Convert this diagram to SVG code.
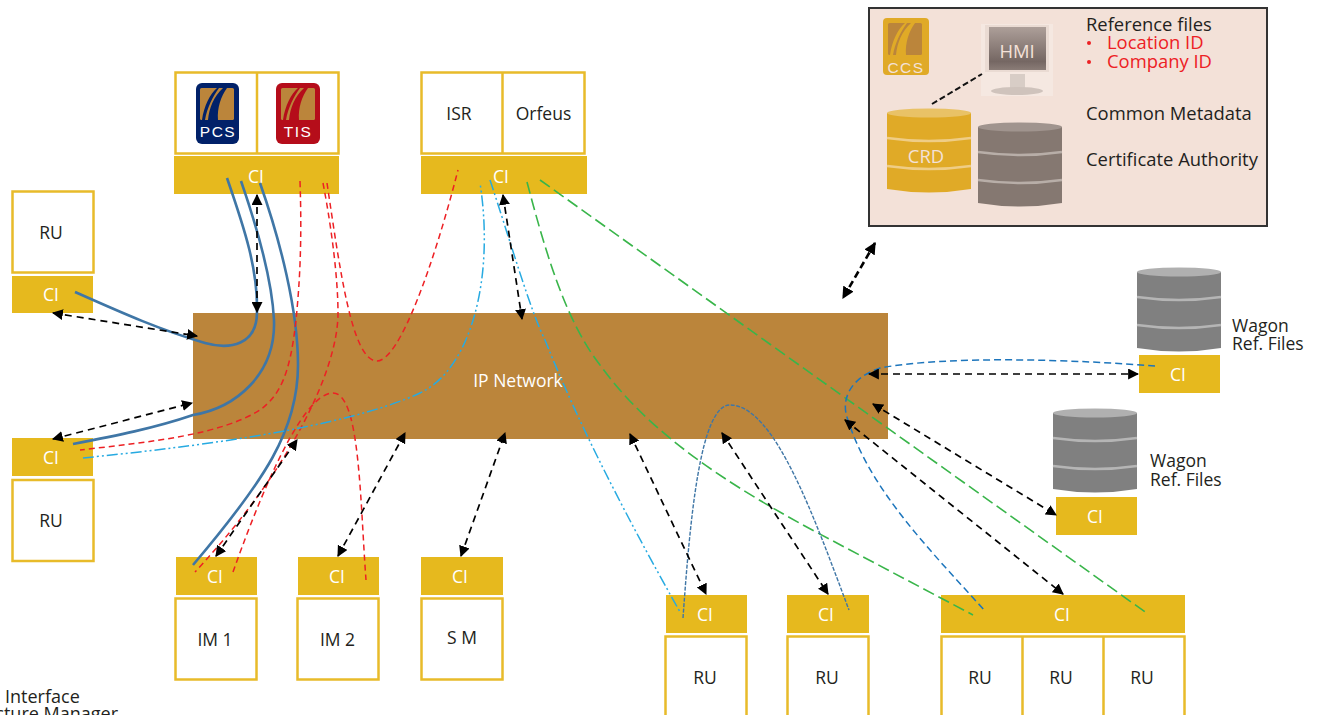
<svg xmlns="http://www.w3.org/2000/svg" xmlns:xlink="http://www.w3.org/1999/xlink" width="1321" height="715" viewBox="0 0 1321 715">
<style>
text{font-family:"Open Sans","Noto Sans","Liberation Sans",sans-serif;font-size:17.500px;fill:#231f20;transform:translateY(.7px)}
.p{font-size:18.400px}
.m{text-anchor:middle}
.w{fill:#fff}
.c{fill:#f3e1d8}
.box{fill:#fff;stroke:#e8bb2a;stroke-width:2.5}
.ci{fill:#e6b91e}
.red{fill:#ed2024}
.blk,.blkb{fill:none;stroke:#000;stroke-width:1.7;stroke-dasharray:7 5;marker-start:url(#a);marker-end:url(#a)}
.blkb{stroke-width:2.6;stroke-dasharray:7 4;marker-start:url(#a2);marker-end:url(#a2)}
.sb,.rd,.cy,.gr,.tb,.db{fill:none}
.sb{stroke:#3f76a6;stroke-width:2.6}
.rd{stroke:#ed2024;stroke-width:1.5;stroke-dasharray:6 4}
.cy{stroke:#27aae1;stroke-width:1.5;stroke-dasharray:11 3 2 3 2 3}
.gr{stroke:#39b54a;stroke-width:1.6;stroke-dasharray:12 5}
.tb{stroke:#3f76a6;stroke-width:1.4;stroke-dasharray:4 1.5}
.db{stroke:#1c75bc;stroke-width:1.5;stroke-dasharray:7 4}
.cb{fill:var(--b)}.ct{fill:var(--t)}.cs{fill:none;stroke:var(--s);stroke-width:2.6}
.crd{--b:#e0aa27;--t:#e9c266;--s:#efcd86}
.pg{--b:#857871;--t:#a0948e;--s:#b8aea8}
.wg{--b:#808080;--t:#b0b0b0;--s:#b5b5b5}
.lt{font-size:15.500px;font-family:"Liberation Sans",sans-serif;text-anchor:middle;letter-spacing:1.500px}
</style>
<defs>
<marker id="a" viewBox="0 0 10 10" refX="9" refY="5" markerUnits="userSpaceOnUse" markerWidth="11" markerHeight="11" orient="auto-start-reverse"><path d="M0,0L10,5L0,10Z"/></marker>
<marker id="a2" viewBox="0 0 10 10" refX="9" refY="5" markerUnits="userSpaceOnUse" markerWidth="12" markerHeight="12" orient="auto-start-reverse"><path d="M0,0L10,5L0,10Z"/></marker>
<linearGradient id="scr" x1="0" y1="0" x2="0" y2="1"><stop offset="0" stop-color="#ad9f99"/><stop offset=".8" stop-color="#756763"/><stop offset="1" stop-color="#8a7c77"/></linearGradient>
<g id="cyl">
<path class="cb" d="M0,5V81Q42,88 84,81V5Z"/>
<ellipse class="ct" cx="42" cy="5" rx="42" ry="4.5"/>
<path class="cs" d="M0,30Q42,36 84,30M0,58Q42,64 84,58"/>
</g>
<g id="road">
<rect width="34" height="32" fill="#bb853b" rx="1.500"/>
<path d="M2,32C4,18 10,6 17,0H19C13,8 7,20 5,32ZM8,32C9,20 14,8 23,0H27C21,8 17,20 18,32Z"/>
</g>
</defs>

<g id="ip-network"><rect x="193" y="313" width="695" height="126" fill="#bb853b"/><text class="m w" x="518" y="386">IP Network</text></g>

<g id="pcs-tis">
<rect class="box" x="175.500" y="72.500" width="163" height="81"/><path class="box" d="M257,72V154"/>
<rect x="196" y="83" width="43" height="61" rx="6" fill="#012169"/>
<use xlink:href="#road" x="200" y="88" fill="#012169"/>
<text class="lt w" x="218" y="136">PCS</text>
<rect x="276" y="83" width="44" height="61" rx="6" fill="#b50d1a"/>
<use xlink:href="#road" x="281" y="88" fill="#b50d1a"/>
<text class="lt w" x="298" y="136">TIS</text>
<rect class="ci" x="174" y="156" width="165" height="38"/><text class="m w" x="256" y="182">CI</text>
</g>
<g id="isr-orfeus">
<rect class="box" x="421.500" y="72.500" width="163" height="81"/><path class="box" d="M502.500,72V154"/>
<text class="m" x="459" y="119">ISR</text><text class="m" x="543.500" y="119">Orfeus</text>
<rect class="ci" x="421" y="156" width="166" height="38"/><text class="m w" x="501" y="182">CI</text>
</g>
<g id="ru-left-top">
<rect class="box" x="12.500" y="191.500" width="81" height="81"/><text class="m" x="51" y="238">RU</text>
<rect class="ci" x="12" y="276" width="81" height="37"/><text class="m w" x="51" y="300">CI</text>
</g>
<g id="ru-left-bottom">
<rect class="ci" x="12" y="438" width="81" height="38"/><text class="m w" x="51" y="463">CI</text>
<rect class="box" x="12.500" y="480" width="81" height="81"/><text class="m" x="51" y="526">RU</text>
</g>
<g id="im1">
<rect class="ci" x="176" y="557" width="81" height="38"/><text class="m w" x="215" y="582">CI</text>
<rect class="box" x="175.500" y="598.500" width="81" height="81"/><text class="m" x="215" y="645">IM 1</text>
</g>
<g id="im2">
<rect class="ci" x="298" y="557" width="81" height="38"/><text class="m w" x="337" y="582">CI</text>
<rect class="box" x="297.500" y="598.500" width="81" height="81"/><text class="m" x="337.500" y="645">IM 2</text>
</g>
<g id="sm">
<rect class="ci" x="421" y="557" width="82" height="38"/><text class="m w" x="460" y="582">CI</text>
<rect class="box" x="421.500" y="598.500" width="81" height="81"/><text class="m" x="462" y="643">S M</text>
</g>
<g id="ru-b1">
<rect class="ci" x="666" y="595" width="81" height="38"/><text class="m w" x="705" y="620">CI</text>
<rect class="box" x="665.500" y="636.500" width="81" height="90"/><text class="m" x="705" y="683">RU</text>
</g>
<g id="ru-b2">
<rect class="ci" x="787" y="595" width="82" height="38"/><text class="m w" x="826" y="620">CI</text>
<rect class="box" x="787.500" y="636.500" width="81" height="90"/><text class="m" x="827" y="683">RU</text>
</g>
<g id="ru-b3">
<rect class="ci" x="941" y="595" width="244" height="38"/><text class="m w" x="1062" y="620">CI</text>
<rect class="box" x="941.500" y="636.500" width="243" height="90"/><path class="box" d="M1022.500,636V715M1103.500,636V715"/>
<text class="m" x="980" y="683">RU</text><text class="m" x="1061" y="683">RU</text><text class="m" x="1142" y="683">RU</text>
</g>
<g id="wagon1">
<use xlink:href="#cyl" class="wg" x="1137" y="267"/>
<rect class="ci" x="1139" y="355" width="81" height="38"/><text class="m w" x="1178" y="380">CI</text>
<text x="1232" y="331">Wagon</text><text x="1232" y="349">Ref. Files</text>
</g>
<g id="wagon2">
<use xlink:href="#cyl" class="wg" x="1053" y="408"/>
<rect class="ci" x="1056" y="497" width="81" height="38"/><text class="m w" x="1095" y="522">CI</text>
<text x="1150" y="466">Wagon</text><text x="1150" y="485">Ref. Files</text>
</g>
<g id="ccs-panel">
<rect x="869" y="8" width="398" height="218" fill="#f3e1d8" stroke="#333" stroke-width="2"/>
<rect x="883" y="18" width="46" height="57" rx="4" fill="#e0aa27"/>
<use xlink:href="#road" x="888" y="23" fill="#e0aa27"/>
<text class="lt c" x="906" y="72">CCS</text>
<rect x="981" y="24" width="72" height="72" fill="#f5e8e1"/>
<rect x="985" y="25" width="64" height="47" fill="#eadbd3"/>
<rect x="989" y="27" width="57" height="43" fill="url(#scr)"/>
<rect x="1010" y="74" width="15" height="17" fill="#d8cdc6"/>
<ellipse cx="1017" cy="91" rx="26" ry="4" fill="#cfc3bc"/>
<text class="m p c" x="1017" y="57">HMI</text>
<path d="M932,104L982,74" fill="none" stroke="#111" stroke-width="2" stroke-dasharray="6 3"/>
<use xlink:href="#cyl" class="crd" x="887" y="108"/>
<text class="m p c" x="926" y="162">CRD</text>
<use xlink:href="#cyl" class="pg" x="978" y="122"/>
<text class="p" x="1086" y="30">Reference files</text>
<circle class="red" cx="1089" cy="43" r="2"/><text class="p" style="fill:#ed2024" x="1107" y="48">Location ID</text>
<circle class="red" cx="1089" cy="62" r="2"/><text class="p" style="fill:#ed2024" x="1107" y="67">Company ID</text>
<text class="p" x="1086" y="119">Common Metadata</text>
<text class="p" x="1086" y="165">Certificate Authority</text>
</g>
<g id="legend">
<text style="font-size:18px" x="5" y="702">Interface</text>
<text style="font-size:18px" x="118" y="719" text-anchor="end">cture Manager</text>
</g>

<g id="connectors">
<path class="sb" d="M227,178C245,230 258,270 257,312C257,345 230,350 205,343C160,330 120,312 75,292"/>
<path class="sb" d="M241,181C258,230 272,280 274,320C276,375 235,408 193,415C155,428 115,436 73,444"/>
<path class="sb" d="M260,183C280,240 298,310 298,365C298,430 265,480 193,565"/>
<path class="rd" d="M300,181C302,240 300,280 296,320C290,375 280,395 260,410C220,435 150,442 80,450"/>
<path class="rd" d="M323,183C332,230 338,280 338,313C338,370 290,470 195,572"/>
<path class="rd" d="M327,183C340,270 352,361 377,361C400,361 435,260 458,170"/>
<path class="rd" d="M233,572C255,510 300,393 333,393C360,393 360,500 366,580"/>
<path class="cy" d="M83,458C180,448 340,430 420,393C470,370 495,280 480,183"/>
<path class="cy" d="M490,180C510,240 530,310 545,340C565,390 600,470 680,612"/>
<path class="gr" d="M527,182C545,250 565,320 600,365C640,420 700,470 816,532L973,615"/>
<path class="gr" d="M540,180L1148,614"/>
<path class="tb" d="M683,618C690,520 700,405 730,405C775,405 815,520 849,610"/>
<path class="db" d="M1155,366C1080,360 950,355 880,368C850,378 840,400 848,420C870,490 930,550 985,611"/>
<path class="blk" d="M257,195V312"/>
<path class="blk" d="M53,313L197,336"/>
<path class="blk" d="M53,439L192,403"/>
<path class="blk" d="M216,556L297,440"/>
<path class="blk" d="M338,556L405,433"/>
<path class="blk" d="M461,556L505,433"/>
<path class="blk" d="M503,195L522,319"/>
<path class="blk" d="M630,434L706,594"/>
<path class="blk" d="M722,433L828,594"/>
<path class="blk" d="M845,420L1063,594"/>
<path class="blk" d="M873,404L1056,515"/>
<path class="blk" d="M869,374H1138"/>
<path class="blkb" d="M875,243L843,298"/>
</g>
</svg>
